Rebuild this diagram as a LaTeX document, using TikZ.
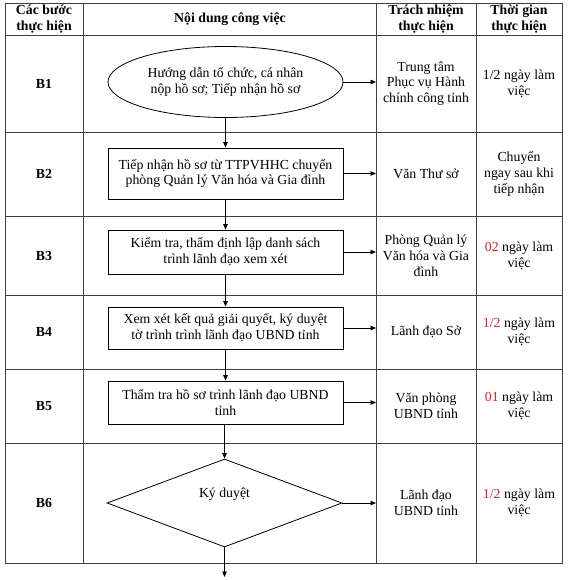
\documentclass[tikz,border=0pt]{standalone}
\usepackage{fontspec}
\setmainfont{Liberation Serif}
\usetikzlibrary{shapes.geometric,arrows.meta}
\definecolor{numred}{RGB}{215,35,45}

\begin{document}
\begin{tikzpicture}[x=1pt,y=-1pt,line width=0.8pt,
  every node/.style={font=\fontsize{13.8}{15.8}\selectfont, align=center, inner sep=0pt},
  headtext/.style={font=\fontsize{13.8}{15.8}\selectfont\bfseries},
  flowbox/.style={draw, rectangle, minimum width=235pt},
  flowarrow/.style={-{Triangle[length=5.5pt,width=4.5pt]}}]
  \useasboundingbox (0,0) rectangle (569,580);

  % Table frame
  \draw[black!75] (5,3) rectangle (562,563);
  \foreach \yy in {35,132,216,295,369,443}
    \draw[black!75] (5,\yy) -- (562,\yy);
  \foreach \xx in {83.5,376,476}
    \draw[black!75] (\xx,3) -- (\xx,563);

  % Header
  \node[headtext] (hstep) at (44,19) {Các bước\\thực hiện};
  \node[headtext] (hwork) at (230,19) {Nội dung công việc};
  \node[headtext] (hresp) at (426,19) {Trách nhiệm\\thực hiện};
  \node[headtext] (htime) at (519,19) {Thời gian\\thực hiện};

  % Step labels
  \node[headtext] (s1) at (44,83.5) {B1};
  \node[headtext] (s2) at (44,174) {B2};
  \node[headtext] (s3) at (44,255.5) {B3};
  \node[headtext] (s4) at (44,332) {B4};
  \node[headtext] (s5) at (44,406) {B5};
  \node[headtext] (s6) at (44,503) {B6};

  % Flow shapes
  \node[draw, ellipse, minimum width=235pt, minimum height=71pt] (e1) at (225.5,82)
    {Hướng dẫn tổ chức, cá nhân\\nộp hồ sơ; Tiếp nhận hồ sơ};
  \node[flowbox, minimum height=51pt] (b2) at (225.5,173.5)
    {Tiếp nhận hồ sơ từ TTPVHHC chuyển\\phòng Quản lý Văn hóa và Gia đình};
  \node[flowbox, minimum height=44pt] (b3) at (225.5,252)
    {Kiểm tra, thẩm định lập danh sách\\trình lãnh đạo xem xét};
  \node[flowbox, minimum height=42pt] (b4) at (225.5,328)
    {Xem xét kết quả giải quyết, ký duyệt\\tờ trình trình lãnh đạo UBND tỉnh};
  \node[flowbox, minimum height=43pt] (b5) at (225.5,402.5)
    {Thẩm tra hồ sơ trình lãnh đạo UBND\\tỉnh};
  \node[draw, diamond, minimum width=235pt, minimum height=88pt] (kd) at (224.5,503) {};
  \node (kdtext) at (224.5,494) {Ký duyệt};

  % Vertical arrows
  \draw[flowarrow] (e1.south) -- (b2.north);
  \draw[flowarrow] (b2.south) -- (b3.north);
  \draw[flowarrow] (b3.south) -- (b4.north);
  \draw[flowarrow] (b4.south) -- (b5.north -| b4.south);
  \draw[flowarrow] (b5.south -| kd.north) -- (kd.north);
  \coordinate (out) at (224.5,577);
  \draw[flowarrow] (kd.south) -- (out);

  % Horizontal arrows to the responsibility column
  \coordinate (r1) at (376,82);
  \coordinate (r2) at (376,173.5);
  \coordinate (r3) at (376,252);
  \coordinate (r4) at (376,328);
  \coordinate (r5) at (376,402.5);
  \coordinate (r6) at (376,503);
  \draw[flowarrow] (e1.east) -- (r1);
  \draw[flowarrow] (b2.east) -- (r2);
  \draw[flowarrow] (b3.east) -- (r3);
  \draw[flowarrow] (b4.east) -- (r4);
  \draw[flowarrow] (b5.east) -- (r5);
  \draw[flowarrow] (kd.east) -- (r6);

  % Responsibility
  \node (p1) at (426,83.5) {Trung tâm\\Phục vụ Hành\\chính công tỉnh};
  \node (p2) at (426,174) {Văn Thư sở};
  \node (p3) at (426,255.5) {Phòng Quản lý\\Văn hóa và Gia\\đình};
  \node (p4) at (426,332) {Lãnh đạo Sở};
  \node (p5) at (426,406) {Văn phòng\\UBND tỉnh};
  \node (p6) at (426,503) {Lãnh đạo\\UBND tỉnh};

  % Time
  \node (t1) at (519,83.5) {1/2 ngày làm\\việc};
  \node (t2) at (519,174) {Chuyển\\ngay sau khi\\tiếp nhận};
  \node (t3) at (519,255.5) {\textcolor{numred}{02} ngày làm\\việc};
  \node (t4) at (519,332) {\textcolor{numred}{1/2} ngày làm\\việc};
  \node (t5) at (519,406) {\textcolor{numred}{01} ngày làm\\việc};
  \node (t6) at (519,503) {\textcolor{numred}{1/2} ngày làm\\việc};
\end{tikzpicture}
\end{document}
